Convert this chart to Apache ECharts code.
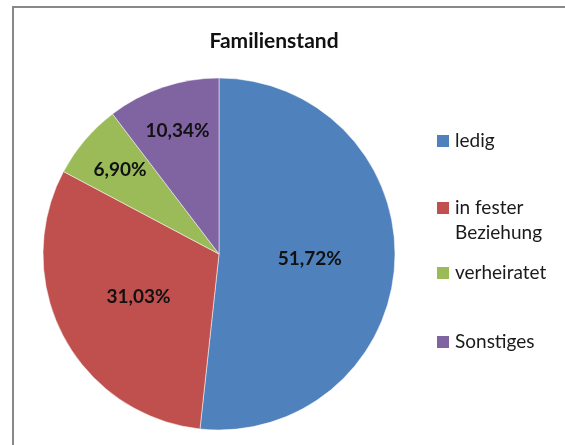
<!DOCTYPE html>
<html>
<head>
<meta charset="utf-8">
<script src="https://cdn.jsdelivr.net/npm/echarts@6/dist/echarts.min.js"></script>
<style>
  html, body { margin: 0; padding: 0; background: #fff; }
  #chart { width: 565px; height: 445px; }
</style>
</head>
<body>
<div id="chart"></div>
<script>
// Familienstand - counts (29 answers)
const categories = ['ledig', 'in fester Beziehung', 'verheiratet', 'Sonstiges'];
const legendLabels = ['ledig', 'in fester', 'verheiratet', 'Sonstiges'];
const counts = [15, 9, 2, 3];
const colors = ['#4F81BD', '#C0504D', '#9BBB59', '#8064A2'];

const font = 'Lato, "Open Sans", sans-serif';
const total = counts.reduce((a, b) => a + b, 0);
const R = 176;

var myChart = echarts.init(document.getElementById('chart'));

// small slices get their label pushed further out (like Excel does)
const labelRadius = [0.5, 0.5, 0.72, 0.72];
let acc = 0;
const labelOffsets = counts.map((c, i) => {
  const mid = (acc + c / 2) / total * Math.PI * 2;  // clockwise from top
  acc += c;
  const extra = (labelRadius[i] - 0.5) * R;
  return [Math.sin(mid) * extra, -Math.cos(mid) * extra];
});

// one legend per entry, the square lines up with the first text line
const legendCenters = [141, 208, 273, 342];
const legends = categories.map((name, i) => ({
  data: [name],
  left: 432,
  top: legendCenters[i] - 5 - 14,
  itemWidth: 12,
  itemHeight: 12,
  selectedMode: false,
  icon: 'rect',
  itemStyle: { borderWidth: 0 },
  formatter: () => legendLabels[i],
  textStyle: {
    fontFamily: font,
    fontSize: 19,
    color: '#1a1a1a',
    lineHeight: 28,
    padding: [0, 0, 0, 1]
  }
}));

option = {
  animation: false,
  color: colors,
  title: {
    text: 'Familienstand',
    left: 269,
    top: 26,
    textAlign: 'center',
    textStyle: {
      fontFamily: font,
      fontSize: 21,
      fontWeight: 'bold',
      color: '#111'
    }
  },
  graphic: [{
    type: 'rect',
    shape: { x: 13, y: 7, width: 600, height: 500 },
    style: { fill: 'none', stroke: '#888', lineWidth: 2 },
    silent: true
  }, {
    // second line of the "in fester Beziehung" legend entry
    type: 'text',
    left: 455,
    top: 223,
    silent: true,
    style: {
      text: 'Beziehung',
      font: '19px ' + font,
      fill: '#1a1a1a'
    }
  }],
  legend: legends,
  series: [{
    type: 'pie',
    center: [219, 254],
    radius: R,
    startAngle: 90,
    clockwise: true,
    silent: true,
    itemStyle: { borderColor: '#fff', borderWidth: 0.5 },
    label: {
      position: 'inside',
      fontFamily: font,
      fontSize: 19,
      fontWeight: 'bold',
      color: '#111',
      formatter: p => (p.value / total * 100).toFixed(2).replace('.', ',') + '%'
    },
    labelLine: { show: false },
    data: categories.map((name, i) => ({
      name: name,
      value: counts[i],
      label: { offset: labelOffsets[i] }
    }))
  }]
};

myChart.setOption(option);
</script>
</body>
</html>
